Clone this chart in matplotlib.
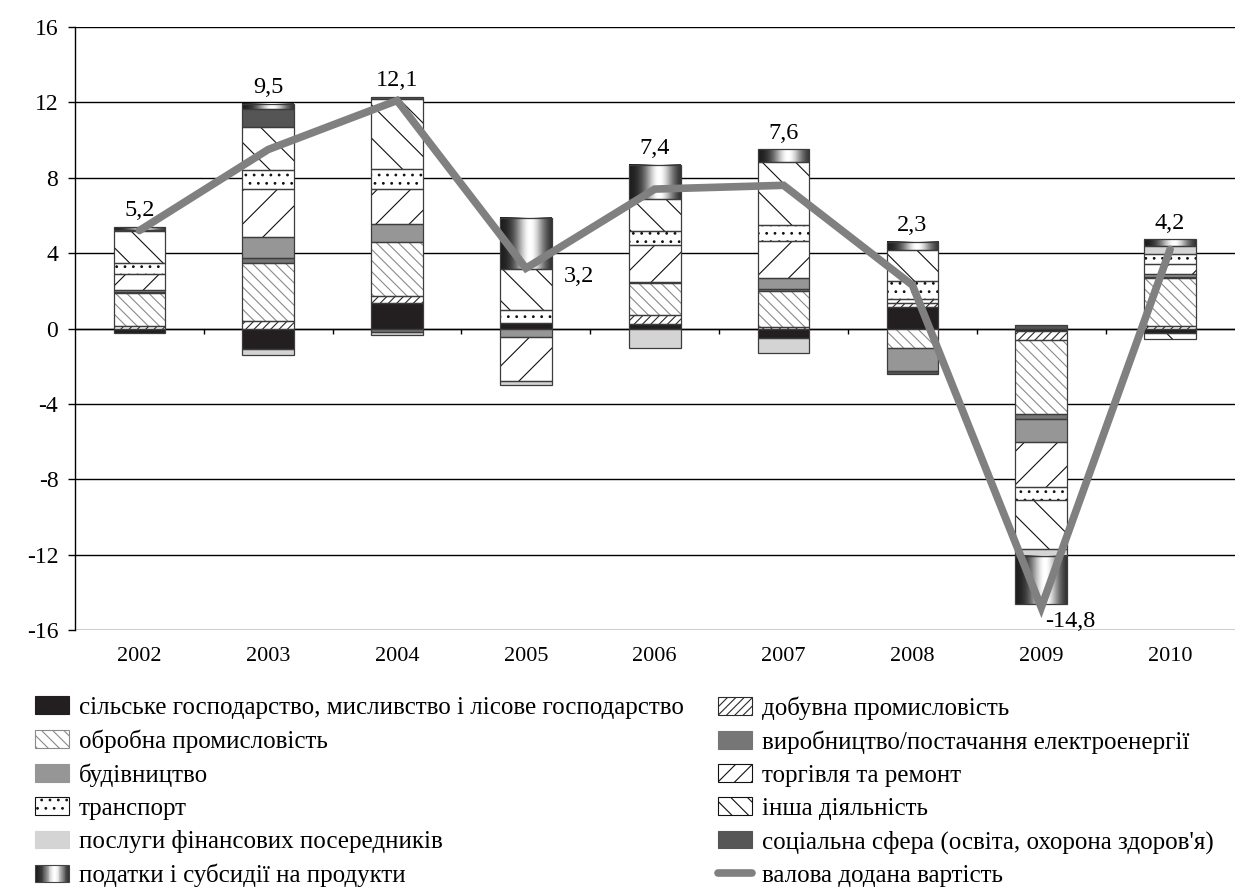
import numpy as np
import matplotlib
matplotlib.use("Agg")
import matplotlib.pyplot as plt
from matplotlib.patches import Patch, Rectangle
from matplotlib.lines import Line2D
from matplotlib.legend_handler import HandlerBase

plt.rcParams['font.family'] = ['Liberation Serif', 'DejaVu Serif']
plt.rcParams['hatch.linewidth'] = 0.8

years = ['2002', '2003', '2004', '2005', '2006', '2007', '2008', '2009', '2010']

# внески видів діяльності, в.п.
agri      = [-0.22, -1.07,  1.37,  0.28,  0.26, -0.49,  1.14, -0.12, -0.22]
mining    = [ 0.13,  0.40,  0.36,  0.00,  0.46,  0.08,  0.21, -0.51,  0.13]
manuf     = [ 1.74,  3.09,  2.86,  0.00,  1.68,  1.91, -1.02, -3.92,  2.53]
electr    = [ 0.05,  0.24, -0.20,  0.00,  0.07,  0.09,  0.00, -0.27,  0.05]
constr    = [ 0.12,  1.13,  0.97, -0.45,  0.00,  0.58, -1.24, -1.20,  0.20]
trade     = [ 0.88,  2.53,  1.83, -2.34,  1.95,  1.98,  0.20, -2.38,  0.50]
transport = [ 0.58,  1.01,  1.06,  0.70,  0.76,  0.84,  0.97, -0.72,  0.53]
other     = [ 1.65,  2.30,  3.72,  2.16,  1.68,  3.37,  1.63, -2.60, -0.35]
finance   = [ 0.00, -0.35, -0.15, -0.22, -1.02, -0.80,  0.00, -0.36,  0.44]
social    = [ 0.10,  0.93,  0.12,  0.00,  0.00,  0.00, -0.17,  0.19,  0.00]
taxes     = [ 0.15,  0.30,  0.00,  2.74,  1.82,  0.66,  0.46, -2.56,  0.35]

gva = [5.2, 9.5, 12.1, 3.2, 7.4, 7.6, 2.3, -14.8, 4.2]
gva_labels = ['5,2', '9,5', '12,1', '3,2', '7,4', '7,6', '2,3', '-14,8', '4,2']

names = {
    'agri': 'сільське господарство, мисливство і лісове господарство',
    'mining': 'добувна промисловість',
    'manuf': 'обробна промисловість',
    'electr': 'виробництво/постачання електроенергії',
    'constr': 'будівництво',
    'trade': 'торгівля та ремонт',
    'transport': 'транспорт',
    'other': 'інша діяльність',
    'finance': 'послуги фінансових посередників',
    'social': 'соціальна сфера (освіта, охорона здоров\'я)',
    'taxes': 'податки і субсидії на продукти',
    'gva': 'валова додана вартість',
}

# (ключ, значення, заливка, колір штриховки, штриховка на стовпчиках, штриховка в легенді)
series = [
    ('agri', agri, '#231f20', '#231f20', None, None),
    ('mining', mining, 'white', '#2a2a2a', '////', '////'),
    ('manuf', manuf, 'white', '#8a8a8a', '\\\\\\', '\\\\\\'),
    ('electr', electr, '#767676', '#767676', None, None),
    ('constr', constr, '#969696', '#969696', None, None),
    ('trade', trade, 'white', '#111111', '/', '//'),
    ('transport', transport, 'white', '#111111', '..', '..'),
    ('other', other, 'white', '#111111', '\\', '\\\\'),
    ('finance', finance, '#d4d4d4', '#d4d4d4', None, None),
    ('social', social, '#555555', '#555555', None, None),
    ('taxes', taxes, 'none', 'none', None, None),
]


def shade(t):
    # профіль "циліндра": темні краї, світла смуга трохи правіше центру
    return 0.1 + 0.9 * np.exp(-((t - 0.58) / 0.28) ** 2)


grad = shade(np.linspace(0, 1, 256)).reshape(1, -1)


class HandlerGradient(HandlerBase):
    def create_artists(self, legend, orig_handle, xdescent, ydescent,
                       width, height, fontsize, trans):
        n = 40
        arts = []
        for i in range(n):
            t = (i + 0.5) / n
            c = str(float(shade(t)))
            arts.append(Rectangle((-xdescent + width * i / n, -ydescent),
                                  width / n + 0.3, height, facecolor=c,
                                  edgecolor='none', transform=trans))
        arts.append(Rectangle((-xdescent, -ydescent), width, height,
                              fill=False, edgecolor='#444444', lw=0.8,
                              transform=trans))
        return arts


fig = plt.figure(figsize=(12.37, 8.89), dpi=100)
ax = fig.add_axes([0.0606, 0.2913, 0.9374, 0.6783])

x = np.arange(len(years))
w = 0.40
pos = np.zeros(len(years))
neg = np.zeros(len(years))

for key, vals, fc, hc, hatch, _ in series:
    v = np.array(vals)
    base = np.where(v >= 0, pos, neg)
    bars = ax.bar(x, v, w, bottom=base, color=fc, edgecolor=hc, hatch=hatch,
                  linewidth=0, zorder=2)
    outline = ax.bar(x, v, w, bottom=base, fill=False, edgecolor='#3c3c3c',
                     linewidth=0.9, zorder=3)
    for b, o, val in zip(bars, outline, v):
        if val == 0:
            b.set_visible(False)
            o.set_visible(False)
        elif key == 'taxes':
            x0 = b.get_x()
            y0 = b.get_y()
            ax.imshow(grad, extent=[x0, x0 + b.get_width(), y0, y0 + b.get_height()],
                      aspect='auto', cmap='gray', vmin=0, vmax=1,
                      interpolation='bicubic', zorder=2)
    pos = pos + np.where(v > 0, v, 0)
    neg = neg + np.where(v < 0, v, 0)

ax.plot(x, gva, color='#808080', lw=5.5, solid_capstyle='round',
        solid_joinstyle='miter', zorder=5)

# підписи значень валової доданої вартості
for i, (val, lab) in enumerate(zip(gva, gva_labels)):
    if lab == '3,2':
        ax.annotate(lab, (x[i], val), xytext=(27, -6), textcoords='offset points',
                    ha='left', va='center', fontsize=17.5, zorder=6)
    elif lab == '-14,8':
        ax.annotate(lab, (x[i], val), xytext=(3, -10), textcoords='offset points',
                    ha='left', va='center', fontsize=17.5, zorder=6)
    else:
        ax.annotate(lab, (x[i], pos[i]), xytext=(0, 4), textcoords='offset points',
                    ha='center', va='bottom', fontsize=17.5, zorder=6)

ax.set_xlim(-0.5, len(years) - 0.5)
ax.set_ylim(-16, 16)
ax.set_yticks(np.arange(-16, 17, 4))
ax.set_yticklabels([str(t) for t in range(-16, 17, 4)])
ax.set_xticks(x)
ax.set_xticklabels(years)
ax.tick_params(axis='x', length=0, pad=12, labelsize=16)
ax.tick_params(axis='y', length=5, width=1, pad=7, labelsize=17)
ax.yaxis.grid(True, color='black', lw=1)
ax.set_axisbelow(True)
for s in ['top', 'right', 'bottom']:
    ax.spines[s].set_visible(False)
ax.spines['left'].set_linewidth(1)

# вісь категорій по нульовій лінії
ax.axhline(0, color='black', lw=1, zorder=1)
ax.vlines(x[:-1] + 0.5, -0.3, 0, color='black', lw=1, zorder=1)

gh = Patch()
style = {k: (fc, hc, lh) for k, _, fc, hc, _, lh in series}


def patch_for(key):
    fc, hc, h = style[key]
    return Patch(facecolor=fc, edgecolor=hc, hatch=h, lw=0.8)


left_keys = ['agri', 'manuf', 'constr', 'transport', 'finance', 'taxes']
right_keys = ['mining', 'electr', 'trade', 'other', 'social']

left_handles = [patch_for(k) if k != 'taxes' else gh for k in left_keys]
right_handles = [patch_for(k) for k in right_keys]
right_handles.append(Line2D([], [], color='#808080', lw=5.5, solid_capstyle='round'))

common = dict(frameon=False, fontsize=18, handlelength=1.35, handleheight=0.72,
              handletextpad=0.4, labelspacing=0.42, borderpad=0, borderaxespad=0,
              loc='upper left', handler_map={gh: HandlerGradient()})
fig.legend(left_handles, [names[k] for k in left_keys],
           bbox_to_anchor=(35 / 1237, 1 - 696 / 889), **common)
fig.legend(right_handles, [names[k] for k in right_keys + ['gva']],
           bbox_to_anchor=(718 / 1237, 1 - 696 / 889), **common)

fig.savefig('out.png', dpi=100)
